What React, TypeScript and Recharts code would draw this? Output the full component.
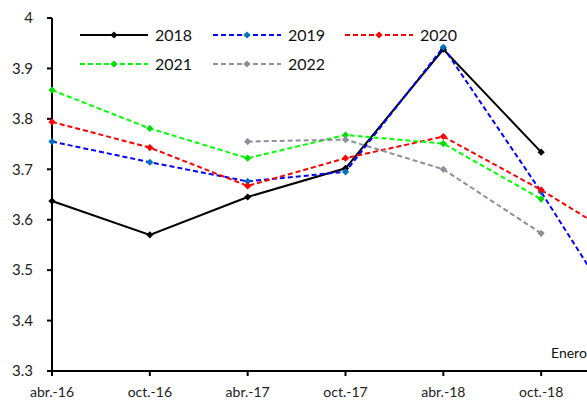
import React from 'react';
import { LineChart, Line, XAxis, YAxis } from 'recharts';

const categories = ['abr.-16', 'oct.-16', 'abr.-17', 'oct.-17', 'abr.-18', 'oct.-18', 'abr.-19'];
const shownTicks = ['abr.-16', 'oct.-16', 'abr.-17', 'oct.-17', 'abr.-18', 'oct.-18'];
const s2018 = [3.637, 3.570, 3.645, 3.702, 3.938, 3.734, null];
const s2019 = [3.755, 3.714, 3.676, 3.695, 3.942, 3.655, 3.35];
const s2020 = [3.794, 3.743, 3.667, 3.722, 3.765, 3.659, 3.54];
const s2021 = [3.857, 3.781, 3.722, 3.768, 3.751, 3.641, null];
const s2022 = [null, null, 3.755, 3.759, 3.700, 3.573, null];
const yTicks = [3.3, 3.4, 3.5, 3.6, 3.7, 3.8, 3.9, 4.0];
const noteText = 'Enero';

const series = [
  { key: 'y2018', name: '2018', values: s2018, stroke: '#000000', fill: '#000000', dash: undefined },
  { key: 'y2019', name: '2019', values: s2019, stroke: '#0000FF', fill: '#0070C0', dash: '5 3' },
  { key: 'y2020', name: '2020', values: s2020, stroke: '#FF0000', fill: '#FF0000', dash: '5 3' },
  { key: 'y2021', name: '2021', values: s2021, stroke: '#00FF00', fill: '#00DD00', dash: '5 3' },
  { key: 'y2022', name: '2022', values: s2022, stroke: '#8E8E9A', fill: '#8E8E9A', dash: '5 3' },
];

const data = categories.map((c, i) => {
  const row: any = { cat: c };
  series.forEach((s) => {
    row[s.key] = s.values[i];
  });
  return row;
});

const FONT = 'Lato, "Noto Sans", sans-serif';

const makeDot = (fill: string) => (props: any) => {
  const { cx, cy, value, index } = props;
  if (value === null || value === undefined || cx == null || cy == null) return <g key={index} />;
  const r = 3.6;
  return (
    <path
      key={index}
      d={`M${cx},${cy - r} L${cx + r},${cy} L${cx},${cy + r} L${cx - r},${cy} Z`}
      fill={fill}
      stroke="none"
    />
  );
};

// legend layout (positions only)
const legendPos = [
  { x: 80, y: 35 },
  { x: 213, y: 35 },
  { x: 345, y: 35 },
  { x: 80, y: 64 },
  { x: 213, y: 64 },
];

export default function App() {
  return (
    <div
      style={{
        position: 'absolute',
        left: 0,
        top: 0,
        width: 587,
        height: 402,
        overflow: 'hidden',
        background: '#fff',
      }}
    >
      <LineChart
        width={660}
        height={402}
        data={data}
        margin={{ top: 18, right: 21, bottom: 0, left: 0 }}
      >
        <XAxis
          dataKey="cat"
          type="category"
          height={31}
          ticks={shownTicks}
          interval={0}
          tickSize={5}
          tickMargin={11}
          axisLine={{ stroke: '#000', strokeWidth: 2 }}
          tickLine={{ stroke: '#000', strokeWidth: 2 }}
          tick={{ fill: '#222', fontSize: 14, fontFamily: FONT }}
        />
        <YAxis
          type="number"
          domain={[3.3, 4]}
          ticks={yTicks}
          width={52}
          tickSize={5}
          tickMargin={14}
          interval={0}
          allowDataOverflow
          tickFormatter={(v: number) => (Math.abs(v - 4) < 1e-9 ? '4' : v.toFixed(1))}
          axisLine={{ stroke: '#000', strokeWidth: 2 }}
          tickLine={{ stroke: '#000', strokeWidth: 2 }}
          tick={{ fill: '#222', fontSize: 15, fontFamily: FONT }}
        />
        {series.map((s) => (
          <Line
            key={s.key}
            dataKey={s.key}
            name={s.name}
            stroke={s.stroke}
            strokeWidth={2}
            strokeDasharray={s.dash}
            dot={makeDot(s.fill)}
            activeDot={false}
            connectNulls={false}
            isAnimationActive={false}
            type="linear"
          />
        ))}
      </LineChart>
      <svg
        width={587}
        height={402}
        style={{ position: 'absolute', left: 0, top: 0, pointerEvents: 'none' }}
      >
        {series.map((s, i) => {
          const p = legendPos[i];
          const mx = p.x + 34;
          const r = 3.6;
          return (
            <g key={s.key}>
              <line
                x1={p.x}
                y1={p.y}
                x2={p.x + 68}
                y2={p.y}
                stroke={s.stroke}
                strokeWidth={2}
                strokeDasharray={s.dash}
              />
              <path
                d={`M${mx},${p.y - r} L${mx + r},${p.y} L${mx},${p.y + r} L${mx - r},${p.y} Z`}
                fill={s.fill}
              />
              <text
                x={p.x + 75}
                y={p.y}
                dy="0.35em"
                fontSize={16}
                fontFamily={FONT}
                fill="#111"
              >
                {s.name}
              </text>
            </g>
          );
        })}
        <text x={551} y={358} fontSize={14} fontFamily={FONT} fill="#111">
          {noteText}
        </text>
      </svg>
    </div>
  );
}
